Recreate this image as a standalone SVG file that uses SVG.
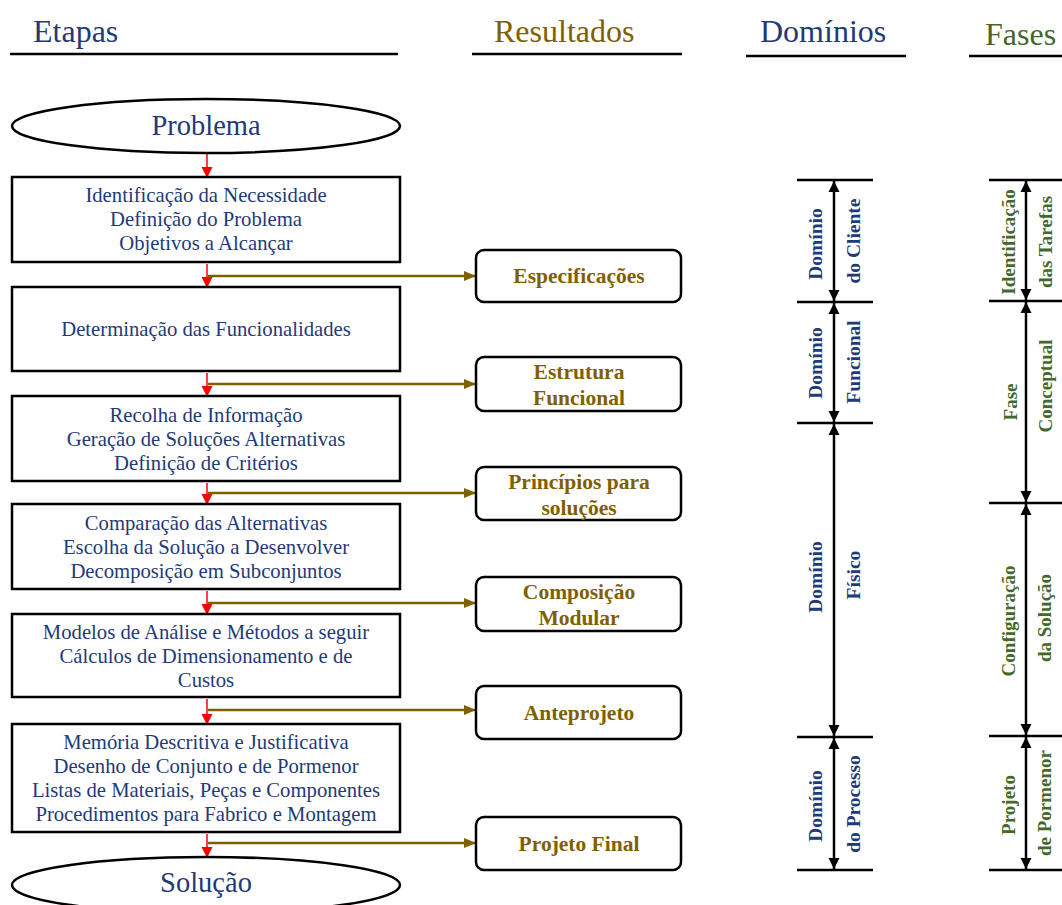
<svg xmlns="http://www.w3.org/2000/svg" width="1062" height="905" viewBox="0 0 1062 905">
<style>
.hd{font-family:"Liberation Serif","Times New Roman",serif;font-size:32px}
.bt{font-family:"Liberation Serif","Times New Roman",serif;font-size:20.7px;fill:#1F3A78;text-anchor:middle}
.el{font-family:"Liberation Serif","Times New Roman",serif;font-size:28.5px;fill:#1F3A78;text-anchor:middle}
.rt{font-family:"Liberation Serif","Times New Roman",serif;font-size:21.5px;font-weight:bold;fill:#7F6000;text-anchor:middle}
.dt{font-family:"Liberation Serif","Times New Roman",serif;font-size:19.5px;font-weight:bold;fill:#1F3A78;text-anchor:middle}
.ft{font-family:"Liberation Serif","Times New Roman",serif;font-size:19px;font-weight:bold;fill:#44682C;text-anchor:middle}
.box{fill:#fff;stroke:#000;stroke-width:2.5}
.rbox{fill:#fff;stroke:#000;stroke-width:2.5}
.red{stroke:#FF0000;stroke-width:1.5;fill:none}
.gold{stroke:#7F6000;stroke-width:2.5;fill:none}
.dim{stroke:#000;stroke-width:2.5;fill:none}
.hl{stroke:#000;stroke-width:2.5}
</style>
<defs>
<marker id="ar" markerUnits="userSpaceOnUse" markerWidth="12" markerHeight="12" refX="10" refY="5.5" orient="auto"><path d="M0,0 L11,5.5 L0,11 Z" fill="#FF0000"/></marker>
<marker id="ag" markerUnits="userSpaceOnUse" markerWidth="14" markerHeight="12" refX="12" refY="5" orient="auto"><path d="M0,0 L12,5 L0,10 Z" fill="#7F6000"/></marker>
<marker id="ab" markerUnits="userSpaceOnUse" markerWidth="13" markerHeight="12" refX="11" refY="5.5" orient="auto"><path d="M0,0 L11,5.5 L0,11 Z" fill="#000"/></marker>
<marker id="abs" markerUnits="userSpaceOnUse" markerWidth="13" markerHeight="12" refX="0" refY="5.5" orient="auto"><path d="M11,0 L0,5.5 L11,11 Z" fill="#000"/></marker>
</defs>
<rect width="1062" height="905" fill="#fff"/>

<g id="headers">
<text class="hd" x="33" y="42" fill="#1F3A78">Etapas</text>
<line class="hl" x1="10" y1="54" x2="398" y2="54"/>
<text class="hd" x="494" y="42" fill="#7F6000">Resultados</text>
<line class="hl" x1="472" y1="54" x2="682" y2="54"/>
<text class="hd" x="760" y="42" fill="#1F3A78">Domínios</text>
<line class="hl" x1="746" y1="56" x2="906" y2="56"/>
<text class="hd" x="985" y="45" fill="#44682C">Fases</text>
<line class="hl" x1="969" y1="56" x2="1062" y2="56"/>
</g>

<g id="connectors">
<line class="red" x1="207" y1="154" x2="207" y2="177" marker-end="url(#ar)"/>
<line class="red" x1="207" y1="264" x2="207" y2="287" marker-end="url(#ar)"/>
<line class="red" x1="207" y1="373" x2="207" y2="396" marker-end="url(#ar)"/>
<line class="red" x1="207" y1="483" x2="207" y2="504" marker-end="url(#ar)"/>
<line class="red" x1="207" y1="591" x2="207" y2="614" marker-end="url(#ar)"/>
<line class="red" x1="207" y1="699" x2="207" y2="724" marker-end="url(#ar)"/>
<line class="red" x1="207" y1="834" x2="207" y2="857" marker-end="url(#ar)"/>
<line class="gold" x1="208" y1="276" x2="476" y2="276" marker-end="url(#ag)"/>
<line class="gold" x1="208" y1="384" x2="476" y2="384" marker-end="url(#ag)"/>
<line class="gold" x1="208" y1="493" x2="476" y2="493" marker-end="url(#ag)"/>
<line class="gold" x1="208" y1="603" x2="476" y2="603" marker-end="url(#ag)"/>
<line class="gold" x1="208" y1="710" x2="476" y2="710" marker-end="url(#ag)"/>
<line class="gold" x1="208" y1="843" x2="476" y2="843" marker-end="url(#ag)"/>
</g>

<g id="problema">
<ellipse cx="206" cy="126" rx="194" ry="27" fill="#fff" stroke="#000" stroke-width="2.5"/>
<text class="el" x="206" y="135">Problema</text>
</g>
<g id="etapa1">
<rect class="box" x="12" y="177" width="388" height="85"/>
<text class="bt" x="206" y="202">Identificação da Necessidade</text>
<text class="bt" x="206" y="226">Definição do Problema</text>
<text class="bt" x="206" y="250">Objetivos a Alcançar</text>
</g>
<g id="etapa2">
<rect class="box" x="12" y="287" width="388" height="84"/>
<text class="bt" x="206" y="336">Determinação das Funcionalidades</text>
</g>
<g id="etapa3">
<rect class="box" x="12" y="396" width="388" height="85"/>
<text class="bt" x="206" y="422">Recolha de Informação</text>
<text class="bt" x="206" y="446">Geração de Soluções Alternativas</text>
<text class="bt" x="206" y="470">Definição de Critérios</text>
</g>
<g id="etapa4">
<rect class="box" x="12" y="504" width="388" height="85"/>
<text class="bt" x="206" y="530">Comparação das Alternativas</text>
<text class="bt" x="206" y="554">Escolha da Solução a Desenvolver</text>
<text class="bt" x="206" y="578">Decomposição em Subconjuntos</text>
</g>
<g id="etapa5">
<rect class="box" x="12" y="614" width="388" height="83"/>
<text class="bt" x="206" y="639">Modelos de Análise e Métodos a seguir</text>
<text class="bt" x="206" y="663">Cálculos de Dimensionamento e de</text>
<text class="bt" x="206" y="687">Custos</text>
</g>
<g id="etapa6">
<rect class="box" x="12" y="724" width="388" height="108"/>
<text class="bt" x="206" y="749">Memória Descritiva e Justificativa</text>
<text class="bt" x="206" y="773">Desenho de Conjunto e de Pormenor</text>
<text class="bt" x="206" y="797">Listas de Materiais, Peças e Componentes</text>
<text class="bt" x="206" y="821">Procedimentos para Fabrico e Montagem</text>
</g>
<g id="solucao">
<ellipse cx="206" cy="885" rx="194" ry="28" fill="#fff" stroke="#000" stroke-width="2.5"/>
<text class="el" x="206" y="892">Solução</text>
</g>

<g id="r-especificacoes">
<rect class="rbox" x="476" y="250" width="205" height="52" rx="8"/>
<text class="rt" x="579" y="283">Especificações</text>
</g>
<g id="r-estrutura">
<rect class="rbox" x="476" y="357" width="205" height="54" rx="8"/>
<text class="rt" x="579" y="379">Estrutura</text>
<text class="rt" x="579" y="405">Funcional</text>
</g>
<g id="r-principios">
<rect class="rbox" x="476" y="467" width="205" height="53" rx="8"/>
<text class="rt" x="579" y="489">Princípios para</text>
<text class="rt" x="579" y="515">soluções</text>
</g>
<g id="r-composicao">
<rect class="rbox" x="476" y="577" width="205" height="54" rx="8"/>
<text class="rt" x="579" y="599">Composição</text>
<text class="rt" x="579" y="625">Modular</text>
</g>
<g id="r-anteprojeto">
<rect class="rbox" x="476" y="686" width="205" height="53" rx="8"/>
<text class="rt" x="579" y="720">Anteprojeto</text>
</g>
<g id="r-projetofinal">
<rect class="rbox" x="476" y="817" width="205" height="53" rx="8"/>
<text class="rt" x="579" y="851">Projeto Final</text>
</g>

<g id="dominios">
<line class="hl" x1="797" y1="180" x2="873" y2="180"/>
<line class="hl" x1="797" y1="302" x2="873" y2="302"/>
<line class="hl" x1="797" y1="423" x2="873" y2="423"/>
<line class="hl" x1="797" y1="737" x2="873" y2="737"/>
<line class="hl" x1="797" y1="870" x2="873" y2="870"/>
<line class="dim" x1="834" y1="181" x2="834" y2="301" marker-start="url(#abs)" marker-end="url(#ab)"/>
<line class="dim" x1="834" y1="303" x2="834" y2="422" marker-start="url(#abs)" marker-end="url(#ab)"/>
<line class="dim" x1="834" y1="424" x2="834" y2="736" marker-start="url(#abs)" marker-end="url(#ab)"/>
<line class="dim" x1="834" y1="738" x2="834" y2="869" marker-start="url(#abs)" marker-end="url(#ab)"/>
<text class="dt" transform="translate(822,244) rotate(-90)">Domínio</text>
<text class="dt" transform="translate(860,241) rotate(-90)">do Cliente</text>
<text class="dt" transform="translate(822,363) rotate(-90)">Domínio</text>
<text class="dt" transform="translate(860,362) rotate(-90)">Funcional</text>
<text class="dt" transform="translate(822,577) rotate(-90)">Domínio</text>
<text class="dt" transform="translate(860,575) rotate(-90)">Físico</text>
<text class="dt" transform="translate(822,806) rotate(-90)">Domínio</text>
<text class="dt" transform="translate(860,804) rotate(-90)">do Processo</text>
</g>

<g id="fases">
<line class="hl" x1="989" y1="180" x2="1062" y2="180"/>
<line class="hl" x1="989" y1="301" x2="1062" y2="301"/>
<line class="hl" x1="989" y1="503" x2="1062" y2="503"/>
<line class="hl" x1="989" y1="736" x2="1062" y2="736"/>
<line class="hl" x1="989" y1="870" x2="1062" y2="870"/>
<line class="dim" x1="1026" y1="181" x2="1026" y2="300" marker-start="url(#abs)" marker-end="url(#ab)"/>
<line class="dim" x1="1026" y1="302" x2="1026" y2="502" marker-start="url(#abs)" marker-end="url(#ab)"/>
<line class="dim" x1="1026" y1="504" x2="1026" y2="735" marker-start="url(#abs)" marker-end="url(#ab)"/>
<line class="dim" x1="1026" y1="737" x2="1026" y2="869" marker-start="url(#abs)" marker-end="url(#ab)"/>
<text class="ft" transform="translate(1015,242) rotate(-90)">Identificação</text>
<text class="ft" transform="translate(1052,242) rotate(-90)">das Tarefas</text>
<text class="ft" transform="translate(1017,402) rotate(-90)">Fase</text>
<text class="ft" transform="translate(1052,386) rotate(-90)">Conceptual</text>
<text class="ft" transform="translate(1015,621) rotate(-90)">Configuração</text>
<text class="ft" transform="translate(1051,618) rotate(-90)">da Solução</text>
<text class="ft" transform="translate(1015,805) rotate(-90)">Projeto</text>
<text class="ft" transform="translate(1051,803) rotate(-90)">de Pormenor</text>
</g>
</svg>
